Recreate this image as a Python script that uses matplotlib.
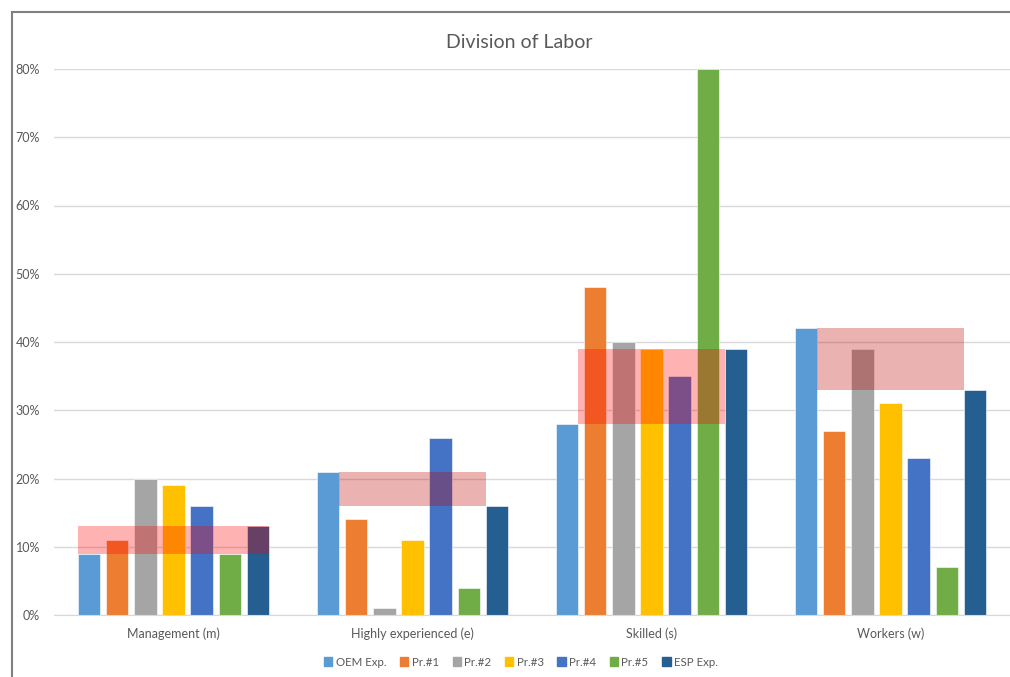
import matplotlib
matplotlib.use("Agg")
import matplotlib.pyplot as plt
import numpy as np
from matplotlib.lines import Line2D

CATEGORIES = ["Management (m)", "Highly experienced (e)", "Skilled (s)", "Workers (w)"]
SERIES = ["OEM Exp.", "Pr.#1", "Pr.#2", "Pr.#3", "Pr.#4", "Pr.#5", "ESP Exp."]

OEM_EXP = [9, 21, 28, 42]
PR1 = [11, 14, 48, 27]
PR2 = [20, 1, 40, 39]
PR3 = [19, 11, 39, 31]
PR4 = [16, 26, 35, 23]
PR5 = [9, 4, 80, 7]
ESP_EXP = [13, 16, 39, 33]

COLORS = ["#5B9BD5", "#ED7D31", "#A5A5A5", "#FFC000", "#4472C4", "#70AD47", "#255E91"]
BAND_COLORS = ["#FF0000", "#C00000", "#FF0000", "#C00000"]
TXT = "#595959"

plt.rcParams["font.family"] = ["Lato", "DejaVu Sans"]

fig = plt.figure(figsize=(10.1, 6.77), dpi=100)
ax = fig.add_axes([54 / 1010, 62 / 677, 956 / 1010, 546 / 677])

values = [OEM_EXP, PR1, PR2, PR3, PR4, PR5, ESP_EXP]
x = np.arange(len(CATEGORIES))
pitch = 0.118
width = 0.094
offsets = (np.arange(len(SERIES)) - 3) * pitch

for i, (name, vals) in enumerate(zip(SERIES, values)):
    ax.bar(x + offsets[i], vals, width, color=COLORS[i], label=name,
           edgecolor="white", linewidth=0.4, zorder=2)

# shaded band between the OEM and ESP estimates
for j in range(len(CATEGORIES)):
    lo = min(OEM_EXP[j], ESP_EXP[j])
    hi = max(OEM_EXP[j], ESP_EXP[j])
    if j == 0:
        x0 = x[j] + offsets[0] - width / 2
        x1 = x[j] + offsets[-1] + width / 2
    else:
        x0 = x[j] + offsets[0] + width / 2
        x1 = x[j] + offsets[-1] - width / 2
    ax.bar((x0 + x1) / 2, hi - lo, x1 - x0, bottom=lo, color=BAND_COLORS[j],
           alpha=0.3, linewidth=0, zorder=3)

ax.set_xlim(-0.5, len(CATEGORIES) - 0.5)
ax.set_ylim(0, 80)
ax.set_yticks(np.arange(0, 81, 10))
ax.set_yticklabels([f"{v}%" for v in range(0, 81, 10)])
ax.set_xticks(x)
ax.set_xticklabels(CATEGORIES)
ax.tick_params(axis="both", length=0, colors=TXT, labelsize=9)
ax.tick_params(axis="x", pad=9)
ax.tick_params(axis="y", pad=10)
ax.grid(axis="y", color="#D9D9D9", linewidth=1, zorder=0)
ax.set_axisbelow(True)
for s in ["top", "right", "left"]:
    ax.spines[s].set_visible(False)
ax.spines["bottom"].set_color("#D9D9D9")

fig.text(519 / 1010, 1 - 43 / 677, "Division of Labor", ha="center", va="center",
         fontsize=14, color=TXT)

handles = [plt.Rectangle((0, 0), 1, 1, color=c) for c in COLORS]
fig.legend(handles, SERIES, loc="center", bbox_to_anchor=(521 / 1010, 1 - 662 / 677),
           ncol=7, frameon=False, fontsize=8.3, handlelength=0.7, handleheight=0.7,
           handletextpad=0.3, columnspacing=1.2, labelcolor=TXT)

# outer chart frame (cut off on right and bottom)
fig.add_artist(Line2D([12 / 1010, 1], [1 - 12 / 677] * 2, color="#808080", linewidth=1.5))
fig.add_artist(Line2D([12 / 1010] * 2, [0, 1 - 12 / 677], color="#808080", linewidth=1.5))

fig.savefig("out.png", dpi=100)
